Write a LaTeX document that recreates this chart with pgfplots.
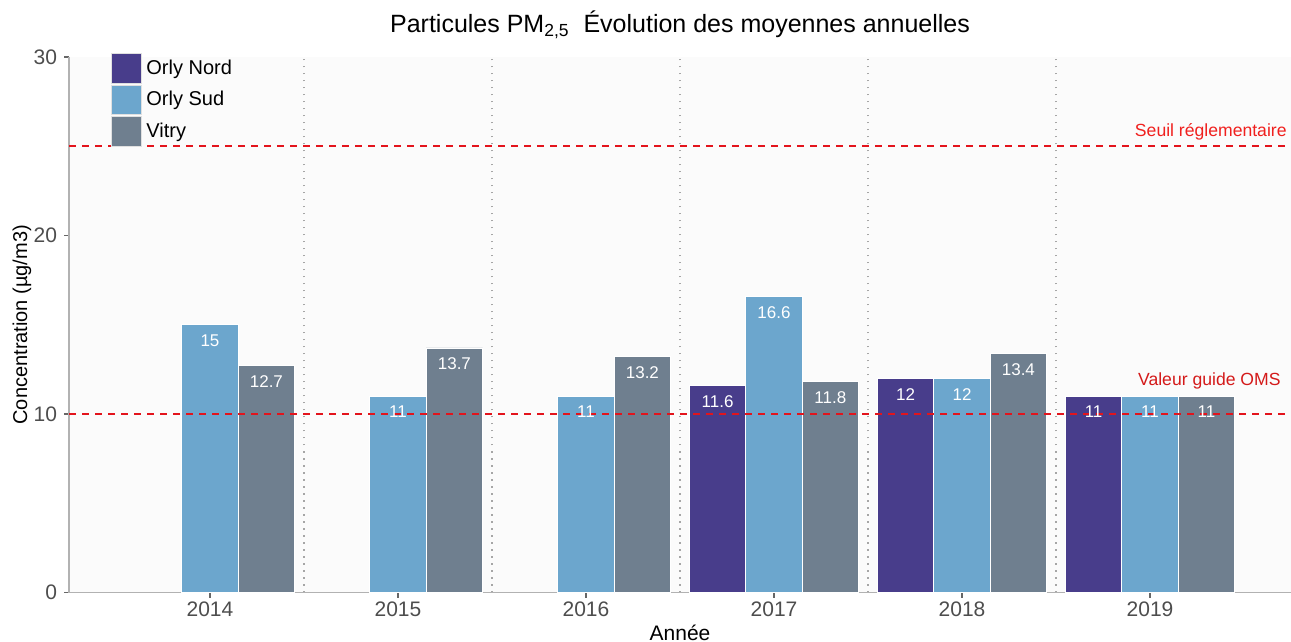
\documentclass[border=0pt]{standalone}
\usepackage{fontspec}
\setmainfont{Liberation Sans}
\usepackage{pgfplots}
\pgfplotsset{compat=1.18}
\definecolor{nord}{HTML}{483D8B}
\definecolor{sud}{HTML}{6CA6CD}
\definecolor{vitry}{HTML}{6F7F8F}
\definecolor{redline}{HTML}{E3141C}
\definecolor{redA}{HTML}{F0201E}
\definecolor{redB}{HTML}{D41A1A}
\definecolor{tickgray}{HTML}{4D4D4D}
\begin{document}
\begin{tikzpicture}
\begin{axis}[
 scale only axis, width=611pt, height=267.75pt,
 xmin=-0.75, xmax=5.75, ymin=0, ymax=30,
 axis background/.style={fill=black!1.5},
 axis x line*=bottom, axis y line*=left,
 axis line style={draw=black!30, line width=0.9pt},
 xtick={0,...,5}, xticklabels={2014,2015,2016,2017,2018,2019},
 ytick={0,10,20,30},
 minor xtick={0.5,1.5,2.5,3.5,4.5},
 xminorgrids, minor grid style={draw=black!35, line width=0.7pt, dash pattern=on 0.7pt off 2.8pt},
 minor tick length=0pt,
 tick align=outside, major tick length=2.5pt,
 tick style={draw=black!60, line width=0.6pt},
 ticklabel style={font=\fontsize{10.5}{12}\selectfont, text=tickgray},
 xticklabel style={yshift=1.5pt},
 /pgf/number format/assume math mode=true,
 title={Particules PM\textsubscript{2,5}\ \ Évolution des moyennes annuelles},
 title style={at={(axis description cs:0.5,1)}, anchor=base, yshift=6pt, font=\fontsize{12.5}{14}\selectfont},
 xlabel={Année}, ylabel={Concentration (µg/m3)},
 xlabel style={at={([yshift=-20.25pt]axis description cs:0.5,0)}, anchor=center, font=\fontsize{10.5}{12}\selectfont},
 ylabel style={at={([xshift=-23.5pt]axis description cs:0,0.5)}, anchor=center, font=\fontsize{10}{12}\selectfont},
 ybar, bar width=0.3,
 legend image code/.code={\draw[#1, draw=black!12, line width=0.5pt] (0pt,-7.4pt) rectangle (15pt,7.4pt);},
 legend cell align=left,
 legend style={at={(axis description cs:0,1)}, anchor=north west, xshift=21pt, yshift=2pt,
   draw=none, fill=none, inner sep=0pt, row sep=0.4pt,
   font=\fontsize{10}{12}\selectfont,
   /tikz/every even column/.style={column sep=4.5pt}},
 bars/.style={draw=white, line width=0.4pt, nodes near coords,
   every node near coord/.append style={anchor=center, yshift=-8pt, text=white, font=\fontsize{8.5}{10}\selectfont}},
]
\addplot[bars, fill=nord, bar shift=-0.3] coordinates {(3,11.6) (4,12) (5,11)};
\addlegendentry{Orly Nord}
\addplot[bars, fill=sud, bar shift=0] coordinates {(0,15) (1,11) (2,11) (3,16.6) (4,12) (5,11)};
\addlegendentry{Orly Sud}
\addplot[bars, fill=vitry, bar shift=0.3] coordinates {(0,12.7) (1,13.7) (2,13.2) (3,11.8) (4,13.4) (5,11)};
\addlegendentry{Vitry}
\addplot[sharp plot, forget plot, redline, line width=1pt, dash pattern=on 3.5pt off 3pt] coordinates {(-0.75,25) (5.75,25)};
\addplot[sharp plot, forget plot, redline, line width=1pt, dash pattern=on 3.5pt off 3pt] coordinates {(-0.75,10) (5.75,10)};
\node[anchor=base east, inner sep=0pt, text=redA, font=\fontsize{8.8}{10}\selectfont] at ([xshift=-2pt]axis cs:5.75,25.53) {Seuil réglementaire};
\node[anchor=base east, inner sep=0pt, text=redB, font=\fontsize{8.8}{10}\selectfont] at ([xshift=-5pt]axis cs:5.75,11.62) {Valeur guide OMS};
\end{axis}
\pgfresetboundingbox
\useasboundingbox ([shift={(-34.5pt,-24.25pt)}]current axis.south west) rectangle ([shift={(0pt,28.5pt)}]current axis.north east);
\end{tikzpicture}
\end{document}
